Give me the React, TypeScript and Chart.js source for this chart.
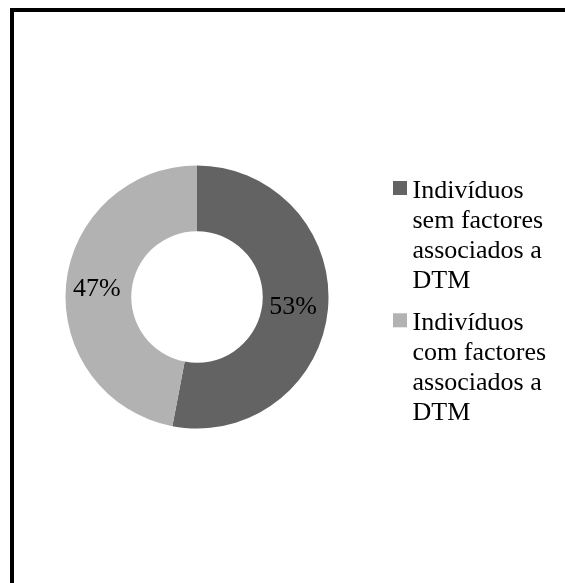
import React, { useEffect, useRef } from "react";
import { Chart, registerables } from "chart.js";

Chart.register(...registerables);

// ---- data ----
const categories = [
  "Indivíduos sem factores associados a DTM",
  "Indivíduos com factores associados a DTM",
];
const values = [53, 47];
const sliceColors = ["#636363", "#b2b2b2"];

const SERIF = '"Liberation Serif", "Times New Roman", Times, serif';

function wrapText(ctx: CanvasRenderingContext2D, text: string, maxW: number): string[] {
  const words = text.split(" ");
  const lines: string[] = [];
  let cur = "";
  for (const w of words) {
    const test = cur ? cur + " " + w : w;
    if (cur && ctx.measureText(test).width > maxW) {
      lines.push(cur);
      cur = w;
    } else {
      cur = test;
    }
  }
  if (cur) lines.push(cur);
  return lines;
}

const framePlugin = {
  id: "frame",
  beforeDraw(chart: any) {
    const ctx = chart.ctx;
    ctx.save();
    ctx.fillStyle = "#000";
    ctx.fillRect(10, 8, 4, chart.height);
    ctx.fillRect(10, 8, chart.width, 4);
    ctx.restore();
  },
};

const sliceLabelPlugin = {
  id: "sliceLabels",
  afterDatasetsDraw(chart: any) {
    const ctx = chart.ctx;
    const meta = chart.getDatasetMeta(0);
    const data = chart.data.datasets[0].data as number[];
    const total = data.reduce((a, b) => a + b, 0);
    ctx.save();
    ctx.font = `26px ${SERIF}`;
    ctx.fillStyle = "#000";
    ctx.textAlign = "center";
    ctx.textBaseline = "middle";
    meta.data.forEach((arc: any, i: number) => {
      const p = arc.getCenterPoint();
      const pct = Math.round((data[i] / total) * 100) + "%";
      ctx.fillText(pct, p.x - 2, p.y + 1);
    });
    ctx.restore();
  },
};

const legendPlugin = {
  id: "wrappedLegend",
  afterDraw(chart: any) {
    const ctx = chart.ctx;
    const area = chart.chartArea;
    const cy = (area.top + area.bottom) / 2;
    const boxX = area.right + 64.5;
    const textX = boxX + 19.5;
    const lineH = 30;
    const groupGap = 12.3;
    const labels = chart.data.labels as string[];
    const colors = chart.data.datasets[0].backgroundColor as string[];
    ctx.save();
    ctx.font = `26px ${SERIF}`;
    ctx.textAlign = "left";
    ctx.textBaseline = "alphabetic";
    let baseline = cy - 99.5;
    labels.forEach((lab, i) => {
      const lines = wrapText(ctx, lab, 150);
      ctx.fillStyle = colors[i];
      ctx.fillRect(boxX, baseline - 16.5, 14, 14);
      ctx.fillStyle = "#000";
      lines.forEach((ln, j) => {
        ctx.fillText(ln, textX, baseline + j * lineH);
      });
      baseline += lines.length * lineH + groupGap;
    });
    ctx.restore();
  },
};

export default function App() {
  const ref = useRef<HTMLCanvasElement | null>(null);

  useEffect(() => {
    if (!ref.current) return;
    const chart = new Chart(ref.current, {
      type: "doughnut",
      data: {
        labels: categories,
        datasets: [
          {
            data: values,
            backgroundColor: sliceColors,
            borderWidth: 0,
          },
        ],
      },
      options: {
        responsive: false,
        animation: false,
        cutout: "50%",
        layout: {
          padding: { left: 65.5, right: 236.5, top: 165.5, bottom: 154.5 },
        },
        plugins: {
          legend: { display: false },
          tooltip: { enabled: false },
        },
      },
      plugins: [framePlugin, sliceLabelPlugin, legendPlugin],
    });
    return () => chart.destroy();
  }, []);

  return (
    <div
      style={{
        position: "fixed",
        left: 0,
        top: 0,
        width: 565,
        height: 583,
        background: "#fff",
        overflow: "hidden",
      }}
    >
      <canvas ref={ref} width={565} height={583} style={{ display: "block" }} />
    </div>
  );
}
